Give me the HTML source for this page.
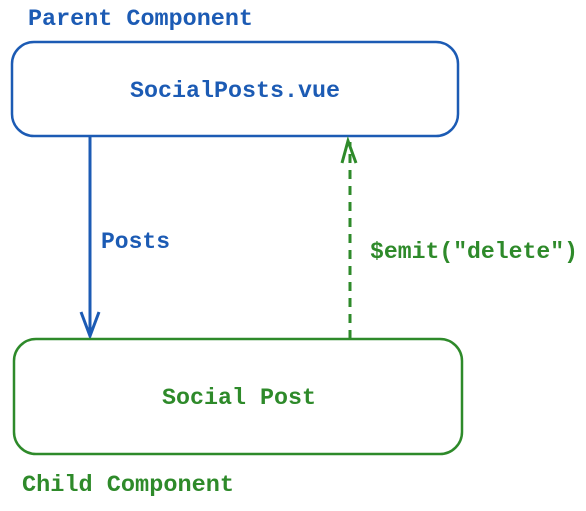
<!DOCTYPE html>
<html><head><style>
body{margin:0;background:#fff;}
svg text{font-family:"Liberation Mono",monospace;font-weight:bold;font-size:23px;}
</style></head><body>
<svg width="586" height="506" xmlns="http://www.w3.org/2000/svg">
<text x="28" y="25" fill="#1c5bb4" textLength="225" lengthAdjust="spacingAndGlyphs">Parent Component</text>
<rect x="12" y="42" width="446" height="94" rx="22" fill="none" stroke="#1c5bb4" stroke-width="2.5"/>
<text x="130" y="97" fill="#1c5bb4" textLength="210" lengthAdjust="spacingAndGlyphs">SocialPosts.vue</text>
<line x1="90" y1="137" x2="90" y2="336" stroke="#1c5bb4" stroke-width="3"/>
<path d="M81 312 L90 336 L99 312" fill="none" stroke="#1c5bb4" stroke-width="3"/>
<text x="101" y="248" fill="#1c5bb4" textLength="69" lengthAdjust="spacingAndGlyphs">Posts</text>
<line x1="350" y1="339" x2="350" y2="142" stroke="#2e8a2a" stroke-width="3" stroke-dasharray="9,7"/>
<path d="M342 163 L348 141 L356 163" fill="none" stroke="#2e8a2a" stroke-width="3"/>
<text x="370" y="258" fill="#2e8a2a" textLength="208" lengthAdjust="spacingAndGlyphs">$emit("delete")</text>
<rect x="14" y="339" width="448" height="115" rx="22" fill="none" stroke="#2e8a2a" stroke-width="2.5"/>
<text x="162" y="404" fill="#2e8a2a" textLength="154" lengthAdjust="spacingAndGlyphs">Social Post</text>
<text x="22" y="491" fill="#2e8a2a" textLength="212" lengthAdjust="spacingAndGlyphs">Child Component</text>
</svg>
</body></html>
